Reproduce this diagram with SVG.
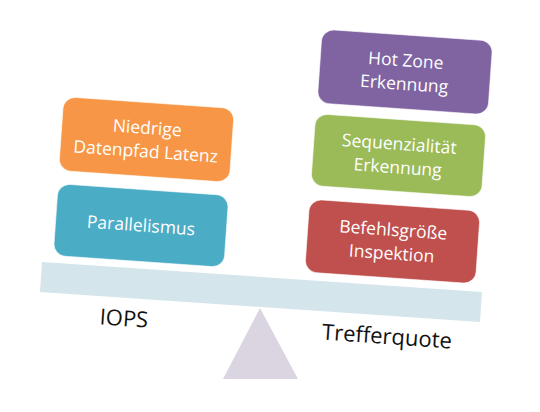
<svg xmlns="http://www.w3.org/2000/svg" width="540" height="412" viewBox="0 0 540 412">
  <style>
    .box text { font-family: "Open Sans", "Liberation Sans", sans-serif; font-size: 17.5px; fill: #ffffff; text-anchor: middle; }
    .lbl { font-family: "Open Sans", "Liberation Sans", sans-serif; font-size: 22px; fill: #111111; text-anchor: middle; }
    .box rect { stroke: #ffffff; stroke-opacity: 0.6; stroke-width: 1; }
  </style>
  <rect width="540" height="412" fill="#ffffff"/>

  <!-- fulcrum -->
  <g id="fulcrum">
    <polygon points="260,308 223,379 298,379" fill="#dbd5e2"/>
  </g>

  <!-- beam -->
  <g id="beam">
    <rect x="-220.5" y="-15" width="441" height="30" fill="#d4e5eb" transform="translate(261,292) rotate(3.9)"/>
  </g>

  <!-- left side -->
  <g id="node-parallelismus" class="box" transform="translate(141,225.5) rotate(4)">
    <rect x="-85.5" y="-36" width="171" height="72" rx="12" fill="#4bacc6"/>
    <text x="0" y="6">Parallelismus</text>
  </g>

  <g id="node-latenz" class="box" transform="translate(146.5,139.5) rotate(4)">
    <rect x="-85.5" y="-37" width="171" height="74" rx="12" fill="#f79646"/>
    <text x="0" y="-5.5">Niedrige</text>
    <text x="0" y="18">Datenpfad Latenz</text>
  </g>

  <!-- right side -->
  <g id="node-befehl" class="box" transform="translate(392.5,241.5) rotate(4)">
    <rect x="-85.5" y="-36.5" width="171" height="73" rx="12" fill="#c0504d"/>
    <text x="0" y="-5.5">Befehlsgröße</text>
    <text x="0" y="18">Inspektion</text>
  </g>

  <g id="node-sequenz" class="box" transform="translate(398.5,155.5) rotate(4)">
    <rect x="-85.5" y="-36" width="171" height="72" rx="12" fill="#9bbb59"/>
    <text x="0" y="-5.5">Sequenzialität</text>
    <text x="0" y="18">Erkennung</text>
  </g>

  <g id="node-hotzone" class="box" transform="translate(405,72) rotate(4)">
    <rect x="-85.5" y="-37" width="171" height="74" rx="12" fill="#8064a2"/>
    <text x="0" y="-5.5">Hot Zone</text>
    <text x="0" y="18">Erkennung</text>
  </g>

  <!-- side labels -->
  <g id="label-iops">
    <text class="lbl" x="0" y="8" transform="translate(124,318) rotate(4)">IOPS</text>
  </g>
  <g id="label-trefferquote">
    <text class="lbl" x="0" y="8" transform="translate(387,336) rotate(4)">Trefferquote</text>
  </g>
</svg>
